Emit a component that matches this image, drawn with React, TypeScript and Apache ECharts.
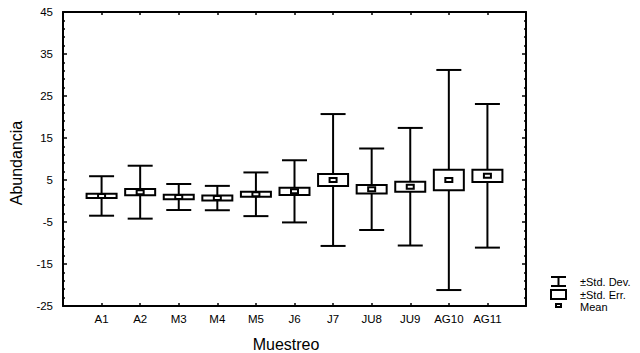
import React, { useEffect, useRef } from "react";
import * as echarts from "echarts";

const categories = ["A1", "A2", "M3", "M4", "M5", "J6", "J7", "JU8", "JU9", "AG10", "AG11"];
const means = [1.2, 2.1, 0.95, 0.7, 1.6, 2.3, 5.0, 2.8, 3.4, 5.0, 6.0];
const stdDevs = [4.7, 6.3, 3.1, 2.9, 5.2, 7.4, 15.7, 9.7, 14.0, 26.2, 17.1];
const stdErrs = [0.5, 0.75, 0.55, 0.6, 0.6, 0.85, 1.45, 1.0, 1.2, 2.45, 1.45];
const yMin = -25;
const yMax = 45;
const yStep = 10;
const legendLabels = ["±Std. Dev.", "±Std. Err.", "Mean"];
const xTitle = "Muestreo";
const yTitle = "Abundancia";

const FONT = "'Liberation Sans', Arial, sans-serif";

export default function App() {
  const ref = useRef<HTMLDivElement>(null);
  useEffect(() => {
    if (!ref.current) return;
    const chart = echarts.init(ref.current, null, { renderer: "svg" });
    const data = categories.map((c, i) => [i + 1, means[i], stdDevs[i], stdErrs[i]]);
    const axisLine = { show: true, onZero: false, lineStyle: { color: "#000", width: 2 } };
    const tick = { show: true, inside: true, length: 3, lineStyle: { color: "#000", width: 1.5 } };
    const minor = { show: true, splitNumber: 5, length: 2, lineStyle: { color: "#000", width: 1.5 } };
    const option: any = {
      animation: false,
      backgroundColor: "#fff",
      grid: { left: 63, top: 12, width: 463, height: 294 },
      xAxis: [
        {
          type: "value",
          min: 0,
          max: 12,
          interval: 1,
          position: "bottom",
          axisLine,
          axisTick: tick,
          splitLine: { show: false },
          axisLabel: {
            margin: 7,
            color: "#000",
            fontFamily: FONT,
            fontSize: 11.5,
            formatter: (v: number) => categories[v - 1] ?? "",
          },
        },
        {
          type: "value",
          min: 0,
          max: 12,
          interval: 1,
          position: "top",
          axisLine,
          axisTick: tick,
          splitLine: { show: false },
          axisLabel: { show: false },
        },
      ],
      yAxis: [
        {
          type: "value",
          min: yMin,
          max: yMax,
          interval: yStep,
          position: "left",
          axisLine,
          axisTick: { ...tick, length: 4 },
          minorTick: minor,
          splitLine: { show: false },
          axisLabel: { margin: 10, color: "#000", fontFamily: FONT, fontSize: 11.5 },
        },
        {
          type: "value",
          min: yMin,
          max: yMax,
          interval: yStep,
          position: "right",
          axisLine,
          axisTick: { ...tick, length: 4 },
          minorTick: minor,
          splitLine: { show: false },
          axisLabel: { show: false },
        },
      ],
      series: [
        {
          type: "custom",
          xAxisIndex: 0,
          yAxisIndex: 0,
          data,
          encode: { x: 0, y: 1 },
          renderItem: (params: any, api: any) => {
            const x = api.value(0);
            const m = api.value(1);
            const sd = api.value(2);
            const se = api.value(3);
            const c = api.coord([x, m]);
            const top = api.coord([x, m + sd]);
            const bot = api.coord([x, m - sd]);
            const seTop = api.coord([x, m + se]);
            const seBot = api.coord([x, m - se]);
            const cx = c[0];
            const st = { stroke: "#000", lineWidth: 2 };
            return {
              type: "group",
              children: [
                { type: "line", shape: { x1: cx, y1: top[1], x2: cx, y2: bot[1] }, style: st },
                { type: "line", shape: { x1: cx - 12.5, y1: top[1], x2: cx + 12.5, y2: top[1] }, style: st },
                { type: "line", shape: { x1: cx - 12.5, y1: bot[1], x2: cx + 12.5, y2: bot[1] }, style: st },
                {
                  type: "rect",
                  shape: { x: cx - 15, y: seTop[1], width: 30, height: seBot[1] - seTop[1] },
                  style: { fill: "#fff", stroke: "#000", lineWidth: 2 },
                },
                {
                  type: "rect",
                  shape: { x: cx - 3.5, y: c[1] - 2, width: 7, height: 4 },
                  style: { fill: "#fff", stroke: "#000", lineWidth: 2 },
                },
              ],
            };
          },
        },
      ],
      graphic: [
        {
          type: "text",
          x: 286,
          y: 344,
          style: { text: xTitle, fontFamily: FONT, fontSize: 16, fill: "#000", align: "center", verticalAlign: "middle" },
        },
        {
          type: "text",
          x: 16,
          y: 163,
          rotation: Math.PI / 2,
          style: { text: yTitle, fontFamily: FONT, fontSize: 16, fill: "#000", align: "center", verticalAlign: "middle" },
        },
        // legend icons
        { type: "line", shape: { x1: 551, y1: 277, x2: 566, y2: 277 }, style: { stroke: "#000", lineWidth: 2 } },
        { type: "line", shape: { x1: 558.5, y1: 277, x2: 558.5, y2: 286 }, style: { stroke: "#000", lineWidth: 2 } },
        { type: "line", shape: { x1: 551, y1: 286, x2: 566, y2: 286 }, style: { stroke: "#000", lineWidth: 2 } },
        { type: "rect", shape: { x: 551, y: 290, width: 15, height: 9 }, style: { fill: "#fff", stroke: "#000", lineWidth: 2 } },
        { type: "rect", shape: { x: 556, y: 304, width: 5, height: 3 }, style: { fill: "#fff", stroke: "#000", lineWidth: 2 } },
        {
          type: "text",
          x: 580,
          y: 281.5,
          style: { text: legendLabels[0], fontFamily: FONT, fontSize: 11, fill: "#000", verticalAlign: "middle" },
        },
        {
          type: "text",
          x: 580,
          y: 294.5,
          style: { text: legendLabels[1], fontFamily: FONT, fontSize: 11, fill: "#000", verticalAlign: "middle" },
        },
        {
          type: "text",
          x: 580,
          y: 307,
          style: { text: legendLabels[2], fontFamily: FONT, fontSize: 11, fill: "#000", verticalAlign: "middle" },
        },
      ],
    };
    chart.setOption(option);
    return () => chart.dispose();
  }, []);
  return <div ref={ref} style={{ position: "fixed", left: 0, top: 0, width: 640, height: 353 }} />;
}
